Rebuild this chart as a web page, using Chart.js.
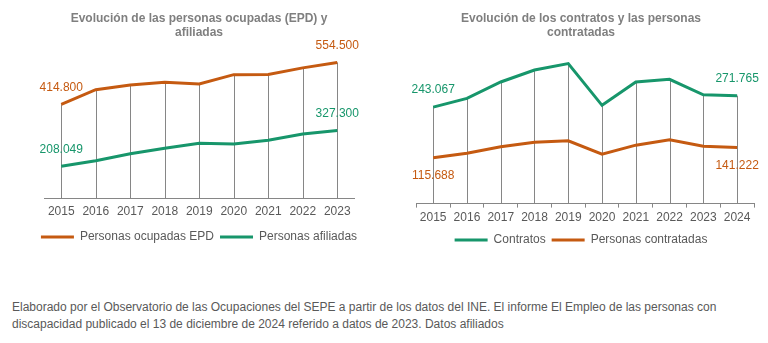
<!DOCTYPE html>
<html lang="es">
<head>
<meta charset="utf-8">
<title>Personas con discapacidad: ocupación y contratos</title>
<script src="https://cdn.jsdelivr.net/npm/chart.js@4.4.1/dist/chart.umd.min.js"></script>
<style>
  html, body { margin: 0; padding: 0; background: #fff; }
  body { width: 768px; height: 343px; position: relative; overflow: hidden;
         font-family: "Liberation Sans", Arial, sans-serif; }
  #chartLeft { position: absolute; left: 0; top: 0; }
  #chartRight { position: absolute; left: 384px; top: 0; }
  .nota { position: absolute; left: 12px; top: 299px; width: 750px;
          font-size: 12px; line-height: 17px; color: #595959; }
</style>
</head>
<body>
<canvas id="chartLeft" width="384" height="253"></canvas>
<canvas id="chartRight" width="384" height="256"></canvas>
<div class="nota">Elaborado por el Observatorio de las Ocupaciones del SEPE a partir de los datos del INE. El informe El Empleo de las personas con<br>discapacidad publicado el 13 de diciembre de 2024 referido a datos de 2023. Datos afiliados</div>

<script>
// --- datos ---
const yearsOcupacion = ['2015', '2016', '2017', '2018', '2019', '2020', '2021', '2022', '2023'];
const ocupadasEPD = [414800, 463500, 479200, 488300, 482600, 513800, 514000, 536300, 554500];
const afiliadas = [208049, 226500, 250000, 267800, 284600, 282200, 294600, 315800, 327300];

const yearsContratos = ['2015', '2016', '2017', '2018', '2019', '2020', '2021', '2022', '2023', '2024'];
const contratos = [243067, 265100, 306300, 336600, 352700, 247500, 306300, 313100, 274000, 271765];
const contratadas = [115688, 127000, 143200, 154800, 158300, 124500, 147200, 160800, 144700, 141222];

const ORANGE = '#C55A11';
const GREEN = '#17966B';
const GREY_TEXT = '#595959';
const GREY_LINE = '#868686';
const FONT = '"Liberation Sans", Arial, sans-serif';

// 414800 -> "414.800"
function formatES(v) {
    return String(Math.round(v)).replace(/\B(?=(\d{3})+(?!\d))/g, '.');
}

// vertical drop lines from the highest point of each category down to the axis
const dropLines = {
    id: 'dropLines',
    beforeDatasetsDraw(chart) {
        const { ctx, chartArea } = chart;
        const metas = chart.data.datasets.map((_, i) => chart.getDatasetMeta(i));
        ctx.save();
        ctx.strokeStyle = GREY_LINE;
        ctx.lineWidth = 1;
        metas[0].data.forEach((pt, i) => {
            const top = Math.min(...metas.map(m => m.data[i].y));
            const x = Math.round(pt.x) + 0.5;
            ctx.beginPath();
            ctx.moveTo(x, top);
            ctx.lineTo(x, chartArea.bottom);
            ctx.stroke();
        });
        ctx.restore();
    }
};

// value labels at first and last point of each series
const endLabels = {
    id: 'endLabels',
    afterDatasetsDraw(chart) {
        const { ctx } = chart;
        ctx.save();
        ctx.font = '12px ' + FONT;
        ctx.textAlign = 'center';
        ctx.textBaseline = 'middle';
        chart.data.datasets.forEach((ds, di) => {
            const meta = chart.getDatasetMeta(di);
            const offset = ds.labelOffset || -17;
            [0, ds.data.length - 1].forEach(i => {
                const pt = meta.data[i];
                ctx.fillStyle = ds.borderColor;
                ctx.fillText(formatES(ds.data[i]), pt.x, pt.y + offset);
            });
        });
        ctx.restore();
    }
};

function legendLabels(chart) {
    const items = Chart.defaults.plugins.legend.labels.generateLabels(chart);
    return items.map(it => Object.assign(it, { lineWidth: 0 }));
}

// invisible axis that only reserves horizontal room
function spacerAxis(position, width) {
    return {
        position: position,
        display: true,
        grid: { display: false },
        border: { display: false },
        ticks: { display: false },
        afterFit(scale) { scale.width = width; }
    };
}

function makeOptions(cfg) {
    return {
        responsive: false,
        animation: false,
        devicePixelRatio: 1,
        layout: { padding: { left: cfg.padLeft, right: 0, top: 0, bottom: 0 } },
        elements: {
            line: { borderWidth: 3, tension: 0 },
            point: { radius: 0, hoverRadius: 0 }
        },
        scales: {
            x: {
                offset: true,
                grid: cfg.grid,
                border: { display: true, color: GREY_LINE, width: 1 },
                ticks: {
                    color: GREY_TEXT,
                    font: { size: 12, family: FONT },
                    padding: cfg.tickPadding,
                    maxRotation: 0,
                    autoSkip: false
                }
            },
            y: Object.assign(spacerAxis('left', cfg.leftWidth), { min: cfg.min, max: cfg.max }),
            yRight: spacerAxis('right', cfg.rightWidth)
        },
        plugins: {
            tooltip: { enabled: false },
            title: {
                display: true,
                text: cfg.title,
                color: '#7F7F7F',
                font: { size: 12, weight: 'bold', family: FONT, lineHeight: 1.2 },
                padding: cfg.titlePadding
            },
            legend: {
                position: 'bottom',
                labels: {
                    boxWidth: 33,
                    boxHeight: 3,
                    padding: cfg.legendPadding,
                    color: GREY_TEXT,
                    font: { size: 12, family: FONT },
                    generateLabels: legendLabels
                }
            }
        }
    };
}

document.addEventListener('DOMContentLoaded', () => {
    // === Personas ocupadas (EPD) y afiliadas ===
    new Chart(document.getElementById('chartLeft'), {
        type: 'line',
        data: {
            labels: yearsOcupacion,
            datasets: [
                { label: 'Personas ocupadas EPD', data: ocupadasEPD,
                  borderColor: ORANGE, backgroundColor: ORANGE, labelOffset: -17 },
                { label: 'Personas afiliadas', data: afiliadas,
                  borderColor: GREEN, backgroundColor: GREEN, labelOffset: -17 }
            ]
        },
        options: makeOptions({
            padLeft: 14, leftWidth: 30, rightWidth: 29.5,
            grid: { display: false, drawTicks: false },
            tickPadding: 6,
            legendPadding: 6,
            min: 100000, max: 600000,
            title: ['Evolución de las personas ocupadas (EPD) y', 'afiliadas'],
            titlePadding: { top: 11, bottom: 9 }
        }),
        plugins: [dropLines, endLabels]
    });

    // === Contratos y personas contratadas ===
    new Chart(document.getElementById('chartRight'), {
        type: 'line',
        data: {
            labels: yearsContratos,
            datasets: [
                { label: 'Contratos', data: contratos,
                  borderColor: GREEN, backgroundColor: GREEN, labelOffset: -17 },
                { label: 'Personas contratadas', data: contratadas,
                  borderColor: ORANGE, backgroundColor: ORANGE, labelOffset: 18 }
            ]
        },
        options: makeOptions({
            padLeft: 10, leftWidth: 22.3, rightWidth: 14,
            grid: { display: true, drawOnChartArea: false, drawTicks: true,
                    tickLength: 4, offset: true, color: GREY_LINE },
            tickPadding: 3,
            legendPadding: 6,
            min: 0, max: 400000,
            title: ['Evolución de los contratos y las personas', 'contratadas'],
            titlePadding: { top: 11, bottom: 5 }
        }),
        plugins: [dropLines, endLabels]
    });
});
</script>
</body>
</html>
